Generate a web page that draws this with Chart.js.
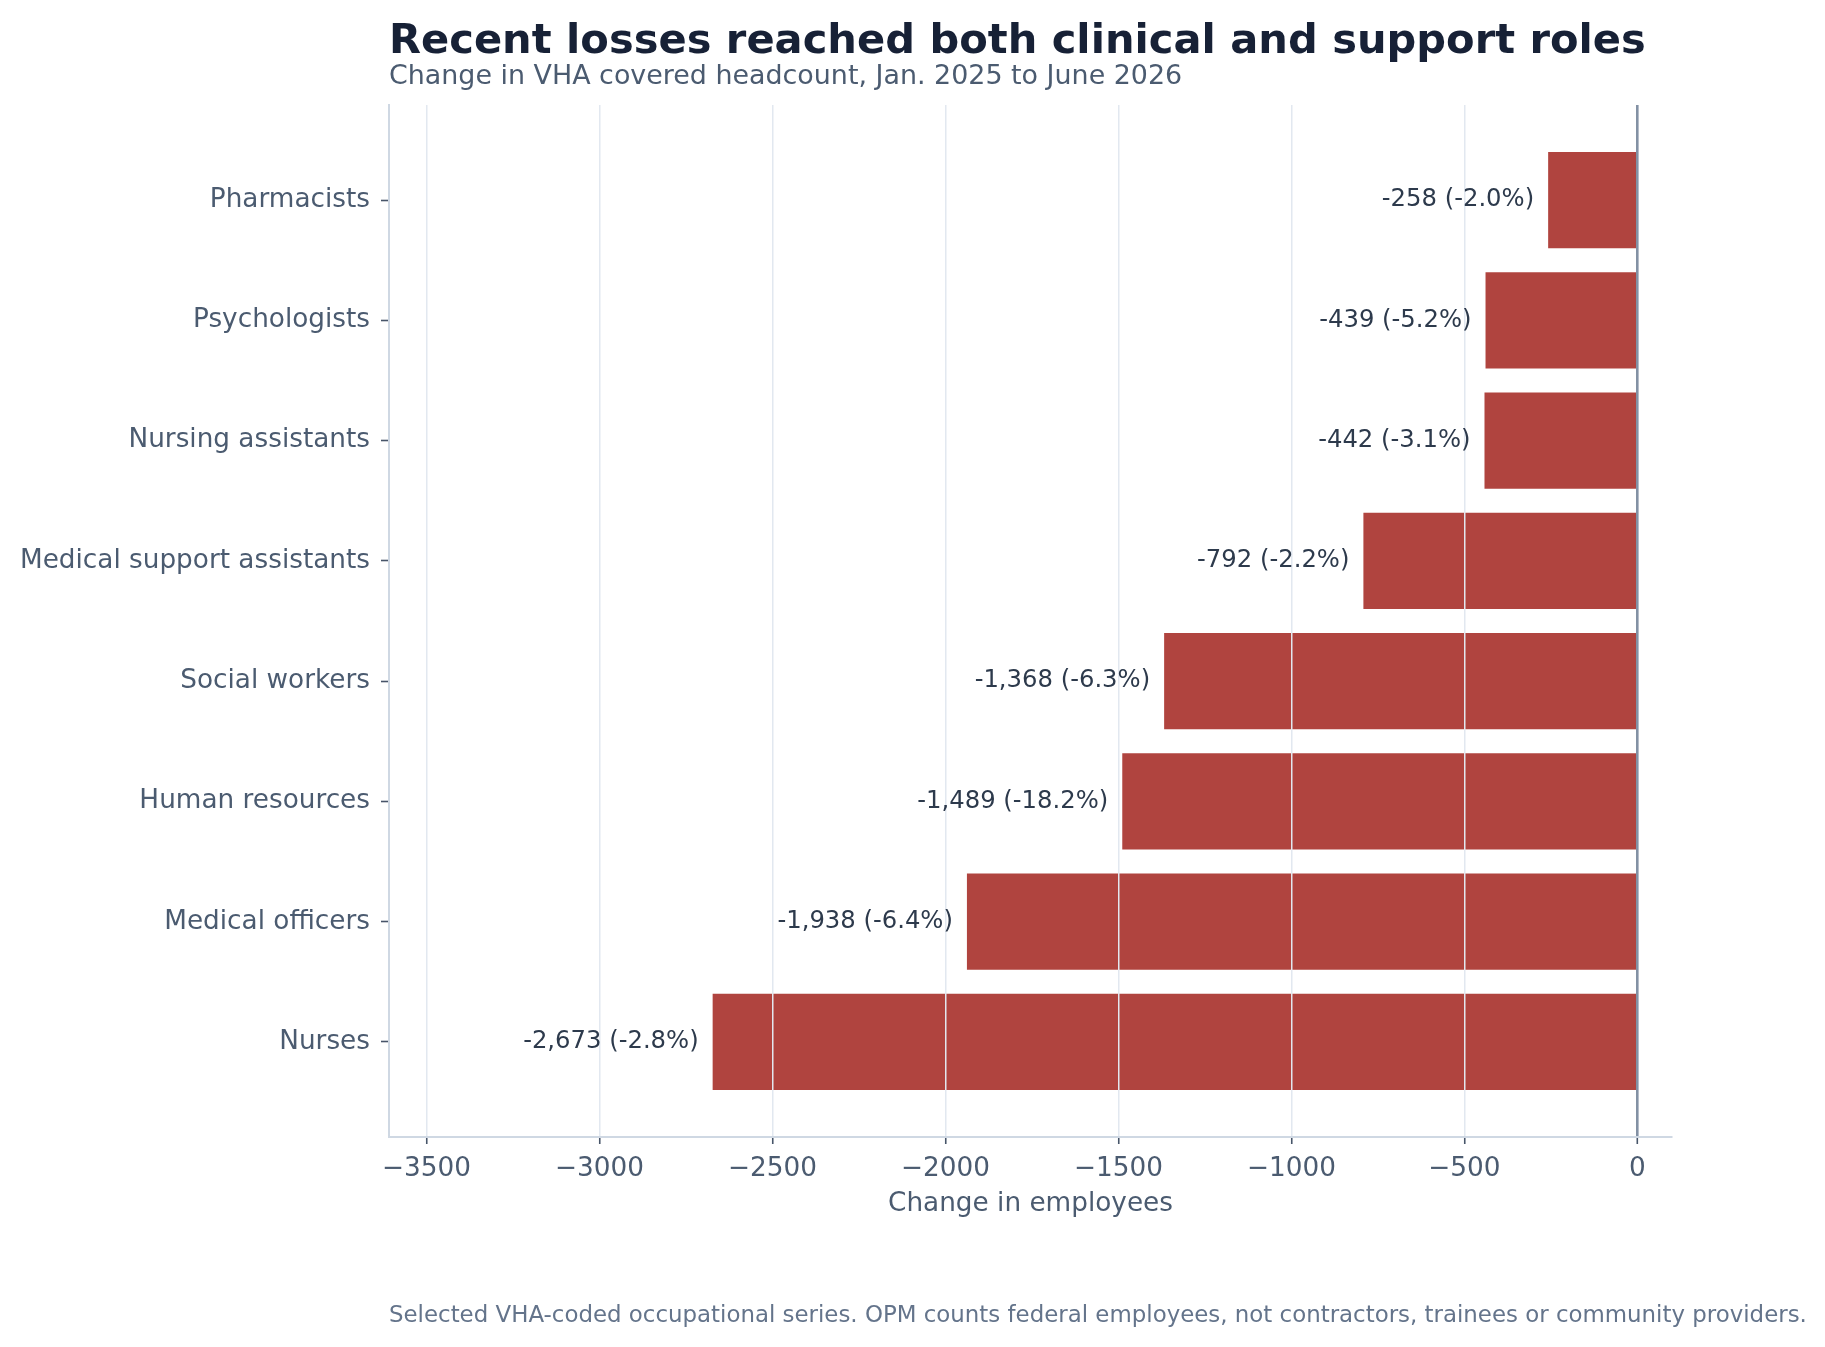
<!DOCTYPE html>
<html>
<head>
<meta charset="utf-8">
<script src="https://cdn.jsdelivr.net/npm/chart.js@4"></script>
<style>
  html, body { margin: 0; padding: 0; background: #ffffff; }
  #wrap { width: 1825px; height: 1347px; position: relative; }
</style>
</head>
<body>
<div id="wrap"><canvas id="chart" width="1825" height="1347"></canvas></div>
<script>
// roles, top to bottom
const categories = ['Pharmacists', 'Psychologists', 'Nursing assistants', 'Medical support assistants',
    'Social workers', 'Human resources', 'Medical officers', 'Nurses'];
const changes = [-258, -439, -442, -792, -1368, -1489, -1938, -2673];
const pctChanges = [-2.0, -5.2, -3.1, -2.2, -6.3, -18.2, -6.4, -2.8];
const xTicks = [-3500, -3000, -2500, -2000, -1500, -1000, -500, 0];

const titleText = 'Recent losses reached both clinical and support roles';
const subtitleText = 'Change in VHA covered headcount, Jan. 2025 to June 2026';
const noteText = 'Selected VHA-coded occupational series. OPM counts federal employees, not contractors, trainees or community providers.';

const FONT = '"DejaVu Sans", "Noto Sans", sans-serif';
Chart.defaults.font.family = FONT;

function fmtValue(v, p) {
    return v.toLocaleString('en-US') + ' (' + p.toFixed(1) + '%)';
}

const textPlugin = {
    id: 'texts',
    afterDraw(chart) {
        const { ctx, chartArea } = chart;
        ctx.save();
        ctx.textAlign = 'left';
        ctx.textBaseline = 'alphabetic';
        ctx.fillStyle = '#172136';
        ctx.font = 'bold 41.6px ' + FONT;
        ctx.fillText(titleText, chartArea.left, 52.5);
        ctx.fillStyle = '#4b5b70';
        ctx.font = '26.9px ' + FONT;
        ctx.fillText(subtitleText, chartArea.left, 84);
        ctx.fillStyle = '#64748b';
        ctx.font = '22.9px ' + FONT;
        ctx.fillText(noteText, chartArea.left, 1322);

        // value labels next to each bar
        const meta = chart.getDatasetMeta(0);
        ctx.textAlign = 'right';
        ctx.textBaseline = 'middle';
        ctx.fillStyle = '#2d3a4c';
        ctx.font = '24.3px ' + FONT;
        meta.data.forEach((bar, i) => {
            ctx.fillText(fmtValue(changes[i], pctChanges[i]), bar.x - 14, bar.y);
        });
        ctx.restore();
    }
};

new Chart(document.getElementById('chart'), {
    type: 'bar',
    data: {
        datasets: [{
            data: changes.map((v, i) => ({ x: v, y: i })),
            backgroundColor: '#b0443f',
            borderWidth: 0,
            categoryPercentage: 1,
            barPercentage: 0.8
        }]
    },
    options: {
        indexAxis: 'y',
        responsive: false,
        devicePixelRatio: 1,
        animation: false,
        layout: { padding: { left: 0, right: 153, top: 105, bottom: 127 } },
        plugins: { legend: { display: false }, tooltip: { enabled: false } },
        scales: {
            x: {
                type: 'linear',
                min: -3608.5,
                max: 100,
                afterBuildTicks: s => { s.ticks = xTicks.map(v => ({ value: v })); },
                afterFit: s => { s.height = 83; },
                ticks: {
                    color: '#4b5b70',
                    font: { size: 26.3 },
                    padding: 9,
                    maxRotation: 0,
                    callback: v => v < 0 ? '\u2212' + Math.abs(v) : String(v)
                },
                grid: {
                    z: 1,
                    drawTicks: true,
                    tickLength: 7,
                    tickColor: '#475569',
                    tickWidth: 1.6,
                    color: c => c.tick && c.tick.value === 0 ? '#8391a4' : '#e2e8f0',
                    lineWidth: c => c.tick && c.tick.value === 0 ? 2.6 : 1.5
                },
                // border after the grid so its position is already known
                border: { display: true, color: '#cfd8e3', width: 2, z: 2 },
                title: {
                    display: true,
                    text: 'Change in employees',
                    color: '#4b5b70',
                    font: { size: 26.3 },
                    padding: 0
                }
            },
            y: {
                type: 'linear',
                reverse: true,
                min: -0.79,
                max: 7.79,
                offset: false,
                afterBuildTicks: s => { s.ticks = categories.map((c, i) => ({ value: i })); },
                afterFit: s => { s.width = 389; },
                ticks: {
                    color: '#4b5b70',
                    font: { size: 26.3 },
                    padding: 11,
                    callback: v => categories[v]
                },
                grid: {
                    offset: false,
                    drawOnChartArea: false,
                    drawTicks: true,
                    tickLength: 8,
                    tickColor: '#475569',
                    tickWidth: 1.6
                },
                border: { display: true, color: '#cfd8e3', width: 2 }
            }
        }
    },
    plugins: [textPlugin]
});
</script>
</body>
</html>
